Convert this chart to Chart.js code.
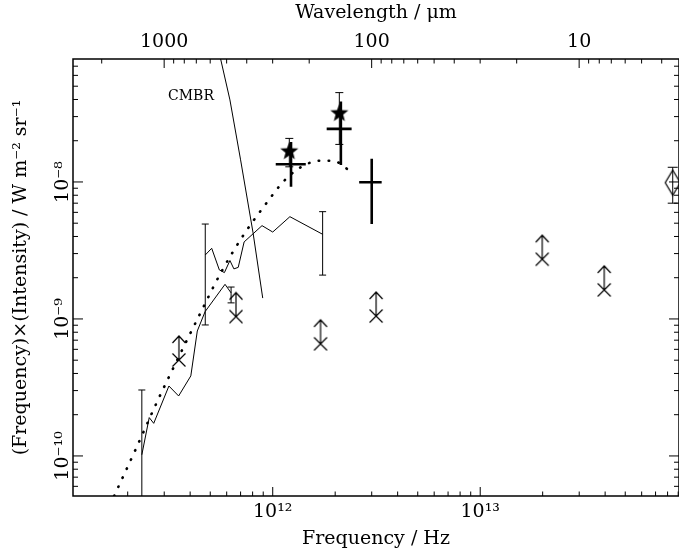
<!DOCTYPE html>
<html>
<head>
<meta charset="utf-8">
<script src="https://cdn.jsdelivr.net/npm/chart.js@4.4.0/dist/chart.umd.min.js"></script>
<style>
  html, body { margin: 0; padding: 0; background: #fff; }
  #wrap { width: 679px; height: 550px; }
</style>
</head>
<body>
<div id="wrap"><canvas id="sed"></canvas></div>
<script>
// axis ranges: frequency in Hz, nu*I_nu in W m^-2 sr^-1
const freqMin = 1.09e11, freqMax = 9.08e13;
const valMin = 5.1e-11, valMax = 7.9e-8;
const freqTicks = [1e12, 1e13];
const waveTicks = [1000, 100, 10];   // micron, top axis
const valTicks = [1e-10, 1e-9, 1e-8];

// CMBR curve
const cmbrFreq = [5.61e11, 6.22e11, 7.0e11, 8.04e11, 8.95e11];
const cmbrVal  = [7.9e-8, 3.97e-8, 1.45e-8, 4.25e-9, 1.42e-9];

// dotted model curve
const modelFreq = [1.72e11, 2.19e11, 2.77e11, 3.53e11, 4.56e11, 5.61e11, 7.11e11, 9.18e11,
                   1.146e12, 1.38e12, 1.69e12, 1.89e12, 2.11e12, 2.31e12];
const modelVal  = [5.1e-11, 1.125e-10, 2.48e-10, 5.31e-10, 1.164e-9, 2.16e-9, 3.94e-9, 6.79e-9,
                   1.035e-8, 1.294e-8, 1.429e-8, 1.429e-8, 1.368e-8, 1.225e-8];

// lower jagged spectrum
const lowFreq = [2.34e11, 2.54e11, 2.67e11, 3.16e11, 3.52e11, 4.03e11, 4.33e11, 4.72e11, 5.89e11, 6.30e11];
const lowVal  = [1.02e-10, 1.905e-10, 1.73e-10, 3.24e-10, 2.74e-10, 3.84e-10, 8.17e-10, 1.13e-9, 1.79e-9, 1.55e-9];
const lowErrFreq = [2.34e11, 6.30e11];
const lowErrLo   = [1e-11, 1.31e-9];
const lowErrHi   = [3.03e-10, 1.71e-9];

// upper jagged spectrum
const upFreq = [4.73e11, 5.08e11, 5.53e11, 5.85e11, 6.22e11, 6.50e11, 6.82e11, 7.28e11, 8.88e11, 1.0e12, 1.21e12, 1.74e12];
const upVal  = [2.93e-9, 3.28e-9, 2.28e-9, 2.18e-9, 2.67e-9, 2.32e-9, 2.38e-9, 3.65e-9, 4.80e-9, 4.31e-9, 5.58e-9, 4.15e-9];
const upErrFreq = [4.73e11, 1.74e12];
const upErrLo   = [9.04e-10, 2.09e-9];
const upErrHi   = [4.93e-9, 6.07e-9];

// stars with error bars
const starFreq = [1.202e12, 2.094e12];
const starVal  = [1.69e-8, 3.21e-8];
const starLo   = [1.29e-8, 1.88e-8];
const starHi   = [2.08e-8, 4.49e-8];

// bold crosses: frequency range and value range
const crossFreq   = [1.225e12, 2.13e12, 3.0e12];
const crossFreqLo = [1.034e12, 1.82e12, 2.61e12];
const crossFreqHi = [1.443e12, 2.40e12, 3.35e12];
const crossVal    = [1.346e-8, 2.44e-8, 9.95e-9];
const crossValLo  = [9.24e-9, 1.33e-8, 4.93e-9];
const crossValHi  = [1.96e-8, 3.86e-8, 1.48e-8];

// lower limits
const limFreq = [3.53e11, 6.65e11, 1.70e12, 3.15e12, 1.99e13, 3.96e13];
const limVal  = [5.02e-10, 1.04e-9, 6.58e-10, 1.05e-9, 2.73e-9, 1.63e-9];

// diamond
const diaFreq = [8.47e13];
const diaVal  = [9.88e-9];
const diaLo   = [7.0e-9];
const diaHi   = [1.28e-8];

const FONT = "'DejaVu Serif', serif";
const LIGHT_C = 2.998e14; // micron Hz

const pts = (xs, ys) => xs.map((v, i) => ({x: v, y: ys[i]}));

const SUP = {'0':'⁰','1':'¹','2':'²','3':'³','4':'⁴','5':'⁵','6':'⁶','7':'⁷','8':'⁸','9':'⁹','-':'⁻'};
const pow10 = v => '10' + String(Math.round(Math.log10(v))).split('').map(c => SUP[c]).join('');

// marker images
function makeStar() {
  const c = document.createElement('canvas');
  c.width = 22; c.height = 22;
  const g = c.getContext('2d');
  g.fillStyle = '#000';
  g.beginPath();
  for (let i = 0; i < 10; i++) {
    const r = i % 2 ? 4 : 9.5;
    const a = -Math.PI / 2 + i * Math.PI / 5;
    g.lineTo(11 + r * Math.cos(a), 11.8 + r * Math.sin(a));
  }
  g.closePath();
  g.fill();
  return c;
}

function makeLimit() {
  const c = document.createElement('canvas');
  c.width = 16; c.height = 58;
  const g = c.getContext('2d');
  const cx = 8, cy = 29;
  g.strokeStyle = '#000';
  g.lineWidth = 1.2;
  g.beginPath();
  g.moveTo(cx - 6.5, cy - 6.5); g.lineTo(cx + 6.5, cy + 6.5);
  g.moveTo(cx + 6.5, cy - 6.5); g.lineTo(cx - 6.5, cy + 6.5);
  g.moveTo(cx, cy); g.lineTo(cx, cy - 24);
  g.moveTo(cx - 6.5, cy - 17); g.lineTo(cx, cy - 24); g.lineTo(cx + 6.5, cy - 17);
  g.stroke();
  return c;
}

function makeDiamond() {
  const c = document.createElement('canvas');
  c.width = 18; c.height = 28;
  const g = c.getContext('2d');
  g.strokeStyle = '#000';
  g.lineWidth = 1.2;
  g.beginPath();
  g.moveTo(9, 1.5); g.lineTo(16.5, 14); g.lineTo(9, 26.5); g.lineTo(1.5, 14);
  g.closePath();
  g.stroke();
  return c;
}

// error bars, bold crosses, label, frame and inward ticks
const extras = {
  id: 'extras',
  afterDatasetsDraw(chart) {
    const {ctx, chartArea: a, scales} = chart;
    const xs = scales.x, ys = scales.y;
    const X = v => xs.getPixelForValue(v);
    const Y = v => ys.getPixelForValue(v);

    ctx.save();
    ctx.beginPath();
    ctx.rect(a.left, a.top, a.right - a.left, a.bottom - a.top);
    ctx.clip();
    ctx.strokeStyle = '#000';

    const errBars = (fr, lo, hi, cap) => {
      ctx.lineWidth = 1;
      ctx.beginPath();
      fr.forEach((f, i) => {
        const px = X(f), y1 = Y(lo[i]), y2 = Y(hi[i]);
        ctx.moveTo(px, y1); ctx.lineTo(px, y2);
        ctx.moveTo(px - cap, y1); ctx.lineTo(px + cap, y1);
        ctx.moveTo(px - cap, y2); ctx.lineTo(px + cap, y2);
      });
      ctx.stroke();
    };
    errBars(lowErrFreq, lowErrLo, lowErrHi, 3.5);
    errBars(upErrFreq, upErrLo, upErrHi, 3.5);
    errBars(starFreq, starLo, starHi, 4);
    errBars(diaFreq, diaLo, diaHi, 5);

    ctx.lineWidth = 2.6;
    ctx.beginPath();
    crossFreq.forEach((f, i) => {
      ctx.moveTo(X(crossFreqLo[i]), Y(crossVal[i]));
      ctx.lineTo(X(crossFreqHi[i]), Y(crossVal[i]));
      ctx.moveTo(X(f), Y(crossValLo[i]));
      ctx.lineTo(X(f), Y(crossValHi[i]));
    });
    ctx.stroke();

    ctx.fillStyle = '#000';
    ctx.font = '14px ' + FONT;
    ctx.textBaseline = 'middle';
    ctx.fillText('CMBR', X(3.13e11), Y(4.25e-8));
    ctx.restore();

    // frame
    ctx.save();
    ctx.strokeStyle = '#000';
    ctx.lineWidth = 1.5;
    ctx.strokeRect(a.left, a.top, a.right - a.left, a.bottom - a.top);

    ctx.lineWidth = 1;
    ctx.beginPath();
    for (let d = 11; d <= 13; d++) {
      for (let k = 1; k <= 9; k++) {
        const v = k * Math.pow(10, d);
        if (v < freqMin || v > freqMax) continue;
        const px = X(v), len = k === 1 ? 9 : 4.5;
        ctx.moveTo(px, a.bottom); ctx.lineTo(px, a.bottom - len);
      }
    }
    for (let d = 0; d <= 3; d++) {
      for (let k = 1; k <= 9; k++) {
        const lam = k * Math.pow(10, d);
        const v = LIGHT_C / lam;
        if (v < freqMin || v > freqMax) continue;
        const px = X(v), len = k === 1 ? 9 : 4.5;
        ctx.moveTo(px, a.top); ctx.lineTo(px, a.top + len);
      }
    }
    for (let d = -11; d <= -8; d++) {
      for (let k = 1; k <= 9; k++) {
        const v = k * Math.pow(10, d);
        if (v < valMin || v > valMax) continue;
        const py = Y(v), len = k === 1 ? 10 : 5;
        ctx.moveTo(a.left, py); ctx.lineTo(a.left + len, py);
        ctx.moveTo(a.right, py); ctx.lineTo(a.right - len, py);
      }
    }
    ctx.stroke();
    ctx.restore();
  }
};

const titleFont = {family: FONT, size: 19};
const tickFont = {family: FONT, size: 19};

new Chart(document.getElementById('sed'), {
  type: 'scatter',
  data: {
    datasets: [
      {label: 'CMBR', data: pts(cmbrFreq, cmbrVal), showLine: true, borderColor: '#000',
       borderWidth: 1, pointRadius: 0},
      {label: 'Model', data: pts(modelFreq, modelVal), showLine: true, borderColor: '#000',
       borderWidth: 2.6, borderDash: [0.5, 9.5], borderCapStyle: 'round', pointRadius: 0,
       cubicInterpolationMode: 'monotone'},
      {label: 'Spectrum A', data: pts(lowFreq, lowVal), showLine: true, borderColor: '#000',
       borderWidth: 1, pointRadius: 0},
      {label: 'Spectrum B', data: pts(upFreq, upVal), showLine: true, borderColor: '#000',
       borderWidth: 1, pointRadius: 0},
      {label: 'Stars', data: pts(starFreq, starVal), pointStyle: makeStar(), pointRadius: 8},
      {label: 'Lower limits', data: pts(limFreq, limVal), pointStyle: makeLimit(), pointRadius: 8},
      {label: 'Diamond', data: pts(diaFreq, diaVal), pointStyle: makeDiamond(), pointRadius: 8}
    ]
  },
  options: {
    responsive: true,
    maintainAspectRatio: false,
    animation: false,
    layout: {padding: 0, autoPadding: false},
    plugins: {legend: {display: false}, tooltip: {enabled: false}},
    scales: {
      x: {
        type: 'logarithmic', position: 'bottom', min: freqMin, max: freqMax,
        grid: {display: false, drawTicks: false}, border: {display: false},
        afterBuildTicks: s => { s.ticks = freqTicks.map(v => ({value: v})); },
        afterFit: s => { s.height = 54; },
        ticks: {color: '#000', font: tickFont, padding: 5, maxRotation: 0, autoSkip: false,
                callback: v => pow10(v)},
        title: {display: true, text: 'Frequency / Hz', color: '#000', font: titleFont,
                padding: {top: 0, bottom: 0}}
      },
      x2: {
        type: 'logarithmic', position: 'top', min: freqMin, max: freqMax,
        grid: {display: false, drawTicks: false}, border: {display: false},
        afterBuildTicks: s => { s.ticks = waveTicks.map(l => ({value: LIGHT_C / l})); },
        afterFit: s => { s.height = 59; },
        ticks: {color: '#000', font: tickFont, padding: 6, maxRotation: 0, autoSkip: false,
                callback: v => String(Math.round(LIGHT_C / v))},
        title: {display: true, text: 'Wavelength / μm', color: '#000', font: titleFont,
                padding: {top: 2, bottom: 0}}
      },
      y: {
        type: 'logarithmic', position: 'left', min: valMin, max: valMax,
        grid: {display: false, drawTicks: false}, border: {display: false},
        afterBuildTicks: s => { s.ticks = valTicks.map(v => ({value: v})); },
        afterFit: s => { s.width = 73; },
        ticks: {color: '#000', font: tickFont, padding: -15, minRotation: 90, maxRotation: 90,
                crossAlign: 'center', autoSkip: false, callback: v => pow10(v)},
        title: {display: true, text: '(Frequency)×(Intensity) / W m⁻² sr⁻¹', color: '#000',
                font: titleFont, padding: {top: 10, bottom: 0}}
      }
    }
  },
  plugins: [extras]
});
</script>
</body>
</html>
